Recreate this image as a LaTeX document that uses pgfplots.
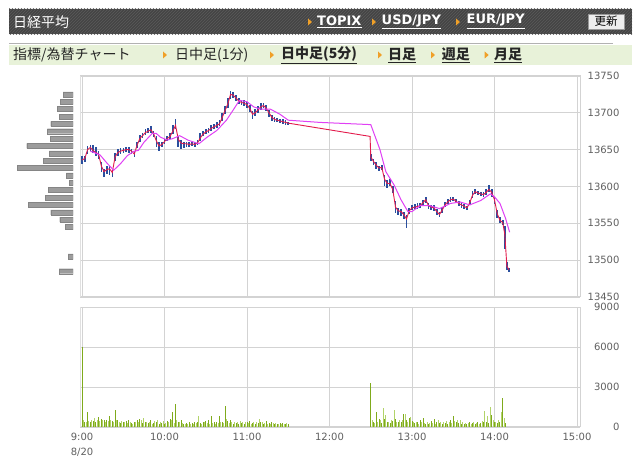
\documentclass[border=0pt]{standalone}
\usepackage{fontspec}
\setmainfont{DejaVu Sans}
\newfontfamily\jp{Noto Sans CJK JP}
\usepackage{pgfplots}
\pgfplotsset{compat=1.18}
\usepackage{pgfplotstable}
\usetikzlibrary{patterns}
\definecolor{hdr}{HTML}{454545}
\definecolor{hdrline}{HTML}{5A5A5A}
\definecolor{gbar}{HTML}{E8F2D9}
\definecolor{tri}{HTML}{F0A028}
\definecolor{gridc}{HTML}{D3D3D3}
\definecolor{tickc}{HTML}{606060}
\definecolor{candle}{HTML}{2A4F9E}
\definecolor{maone}{HTML}{E31B4C}
\definecolor{matwo}{HTML}{E040F5}
\definecolor{volD}{HTML}{7FAA1C}
\definecolor{volL}{HTML}{B2D36A}
\definecolor{histc}{HTML}{9C9C9C}

\pgfplotstableread{
t p ep em
0 13636 5 6
2 13638 4 5
4 13650 5 6
6 13653 4 5
8 13649 8 4
10 13646 7 5
12 13644 4 6
14 13628 5 8
16 13620 4 7
18 13623 5 6
20 13624 4 8
22 13619 4 6
24 13640 6 5
26 13646 5 4
28 13648 4 4
30 13649 3 3
32 13650 3 3
34 13650 3 4
36 13648 3 4
38 13644 4 4
40 13656 5 4
42 13665 5 4
44 13669 4 3
46 13673 5 3
48 13675 5 3
50 13677 5 4
52 13672 4 5
54 13662 6 8
56 13655 6 7
58 13657 4 4
60 13661 4 3
62 13665 4 3
64 13668 5 4
66 13675 8 4
68 13683 9 5
70 13664 5 10
72 13659 4 8
74 13658 3 6
76 13658 3 4
78 13657 3 4
80 13658 3 3
82 13657 3 3
84 13659 4 3
86 13666 6 4
88 13671 4 3
90 13674 4 3
92 13676 4 3
94 13679 4 3
96 13681 4 3
98 13683 4 4
100 13685 5 3
102 13694 6 5
104 13703 6 5
106 13712 8 5
108 13725 5 6
110 13724 4 4
112 13720 4 4
114 13716 4 4
116 13714 4 4
118 13713 4 4
120 13711 4 4
122 13706 4 5
124 13698 4 6
126 13700 5 4
128 13704 5 4
130 13708 5 4
132 13710 4 4
134 13706 4 4
136 13700 4 6
138 13694 3 5
140 13691 3 3
142 13690 3 3
144 13689 3 3
146 13688 3 3
148 13687 3 3
150 13686 2 3
}\morning

\pgfplotstableread{
t p ep em
210 13640 4 6
212 13634 4 5
214 13629 4 5
216 13625 3 4
218 13626 3 4
220 13610 5 10
222 13604 5 6
224 13604 6 4
226 13596 5 5
228 13572 8 8
230 13567 4 6
232 13566 4 6
234 13562 4 6
236 13556 5 12
238 13567 4 4
240 13571 4 3
242 13572 4 3
244 13573 4 3
246 13574 3 3
248 13578 4 4
250 13582 4 4
252 13574 4 5
254 13572 3 4
256 13571 4 4
258 13566 4 5
260 13562 4 4
262 13568 4 4
264 13575 4 3
266 13579 4 3
268 13582 4 3
270 13583 3 3
272 13580 3 3
274 13577 3 4
276 13575 3 4
278 13573 3 4
280 13571 3 3
282 13578 4 3
284 13588 6 4
286 13593 3 3
288 13591 3 3
290 13590 3 3
292 13589 3 3
294 13592 4 3
296 13596 6 4
298 13592 4 6
300 13582 4 6
302 13563 5 6
304 13554 4 4
306 13551 3 3
307.5 13535 12 20
309 13492 6 5
310.5 13487 3 3
}\afternoon

\pgfplotstableread{
t p
6 13648
13 13643
18 13632
23 13622
28 13631
33 13642
38 13648
41 13649
45 13660
51 13672
54 13672
57 13667
62 13663
66 13665
71 13669
77 13663
85 13658
91 13667
98 13676
105 13690
110 13704
114.5 13717
120 13715
125 13708
130 13705
137 13705
144 13698
150 13690
173 13687
210 13684
216.7 13650
221 13620
227 13602
232 13582
237 13566
240 13566
246 13574
253 13574
260 13570
268 13577
275 13579
282 13575
290 13581
297 13590
300 13586
304 13577
308 13557
311 13538
}\matwotab

\begin{document}
\begin{tikzpicture}[x=1pt,y=1pt]
\useasboundingbox (0,0) rectangle (640,471);
\fill[white] (0,0) rectangle (640,471);
% header bar
\fill[hdr] (9,436.7) rectangle (632,462);
\fill[pattern=north east lines, pattern color=hdrline] (9,436.7) rectangle (632,462);
\node[anchor=west, inner sep=0, text=white, font=\jp\fontsize{14}{14}\selectfont] at (13,449) {日経平均};
\foreach \tx in {310,374,458} {\fill[tri] (\tx-2,445.5) -- (\tx-2,452.5) -- (\tx+2,449) -- cycle;}
\node[anchor=west, inner sep=0, text=white, font=\bfseries\fontsize{13}{13}\selectfont] at (317,449.5) {\underline{TOPIX}};
\node[anchor=west, inner sep=0, text=white, font=\bfseries\fontsize{13}{13}\selectfont] at (381.5,449.5) {\underline{USD/JPY}};
\node[anchor=west, inner sep=0, text=white, font=\bfseries\fontsize{13}{13}\selectfont] at (466.5,449.5) {\underline{EUR/JPY}};
\draw[fill=white!93!black, draw=white!60!black] (588,442) rectangle (624,457);
\node[inner sep=0, font=\jp\fontsize{11.5}{11.5}\selectfont] at (606,449.5) {更新};
% second bar
\fill[gbar] (9,406) rectangle (632,426);
\draw[white!70!black, line width=1.5pt] (9,427.3) -- (613,427.3);
\node[anchor=west, inner sep=0, text=black!85, font=\jp\fontsize{14}{14}\selectfont] at (13,416) {指標/為替チャート};
\foreach \tx in {165,272,380,433,486.7} {\fill[tri] (\tx-2,412.5) -- (\tx-2,419.5) -- (\tx+2,416) -- cycle;}
\node[anchor=west, inner sep=0, text=black!85, font=\jp\fontsize{14}{14}\selectfont] at (175,416) {日中足(1分)};
\node[anchor=west, inner sep=0, text=black!85, font=\jp\bfseries\fontsize{14}{14}\selectfont] at (281,416) {\underline{日中足(5分)}};
\node[anchor=west, inner sep=0, text=black!85, font=\jp\bfseries\fontsize{14}{14}\selectfont] at (388,416) {\underline{日足}};
\node[anchor=west, inner sep=0, text=black!85, font=\jp\bfseries\fontsize{14}{14}\selectfont] at (441.7,416) {\underline{週足}};
\node[anchor=west, inner sep=0, text=black!85, font=\jp\bfseries\fontsize{14}{14}\selectfont] at (494,416) {\underline{月足}};

\pgfplotsset{
  panel/.style={anchor=south west, scale only axis, width=500pt,
    xmin=-1.5, xmax=362.2, xtick={0,60,...,360},
    grid=major, grid style={gridc, line width=0.9pt},
    axis line style={gridc, line width=1pt}, major tick length=0pt,
    yticklabel pos=right, scaled x ticks=false, scaled y ticks=false,
    yticklabel style={font=\fontsize{10}{12}\selectfont, text=tickc, anchor=east, xshift=43pt},
    /pgf/number format/1000 sep={}, /pgf/number format/assume math mode=true},
}

% price-by-volume histogram
\begin{axis}[at={(17pt,174pt)}, anchor=south west, scale only axis, width=56pt, height=221pt,
  xmin=0, xmax=56, ymin=13450, ymax=13750, x dir=reverse, hide axis, xbar, bar width=5pt]
\addplot[fill=histc, draw=histc!85!black, line width=0.4pt] coordinates {
(10,13725)(13,13715)(15.7,13705)(14,13695)(22.3,13685)(25.7,13675)(23,13665)(46.3,13655)
(24,13645)(29.7,13635)(55.3,13625)(6.7,13615)(4,13605)(25,13595)(27.7,13585)(45,13575)
(22.3,13565)(13.3,13555)(7.7,13545)(5,13505)(14,13485)};
\end{axis}

% price panel
\begin{axis}[panel, at={(80pt,174pt)}, height=221pt, ymin=13450, ymax=13750,
  xticklabels={}, ytick={13450,13500,...,13750}]
\draw[white!88!black, line width=3pt] ([xshift=-1pt]rel axis cs:0,0) -- ([xshift=-1pt]rel axis cs:0,1);
\addplot[draw=none, mark=none, forget plot, error bars/.cd, y dir=both, y explicit, error mark=none,
  error bar style={candle, line width=1.6pt}] table[x=t, y=p, y error plus=ep, y error minus=em] {\morning};
\addplot[draw=none, mark=none, forget plot, error bars/.cd, y dir=both, y explicit, error mark=none,
  error bar style={candle, line width=1.6pt}] table[x=t, y=p, y error plus=ep, y error minus=em] {\afternoon};
\addplot[maone, line width=0.9pt, mark=none] table[x=t, y=p] {\morning};
\addplot[maone, line width=0.9pt, mark=none] coordinates {(150,13686)(209.5,13668)(210,13640)};
\addplot[maone, line width=0.9pt, mark=none] table[x=t, y=p] {\afternoon};
\addplot[matwo, line width=1pt, mark=none] table[x=t, y=p] {\matwotab};
\end{axis}

% volume panel
\begin{axis}[panel, at={(80pt,44pt)}, height=120pt, ymin=0, ymax=9000,
  ytick={0,3000,6000,9000},
  xticklabels={{9:00\\8/20},10:00,11:00,12:00,13:00,14:00,15:00},
  xticklabel style={align=center, font=\fontsize{10}{15}\selectfont, text=tickc, anchor=north, yshift=-3pt}]
\draw[white!88!black, line width=3pt] ([xshift=-1pt]rel axis cs:0,0) -- ([xshift=-1pt]rel axis cs:0,1);
\addplot[ycomb, volD, line width=1pt, mark=none] coordinates {
(0,6000)(2,400)(4,1100)(6,400)(8,450)(10,400)(12,750)(14,600)(16,550)(18,500)(20,850)(22,450)(24,1250)(26,500)(28,300)(30,400)(32,450)(34,550)(36,300)(38,350)(40,550)(42,600)(44,300)(46,400)(48,300)(50,550)(52,300)(54,350)(56,250)(58,300)(60,200)(62,450)(64,600)(66,1100)(68,1700)(70,400)(72,550)(74,250)(76,300)(78,350)(80,300)(82,400)(84,350)(86,300)(88,400)(90,450)(92,500)(94,800)(96,350)(98,400)(100,850)(102,400)(104,1550)(106,450)(108,500)(110,250)(112,300)(114,250)(116,300)(118,250)(120,350)(122,450)(124,300)(126,250)(128,300)(130,350)(132,250)(134,450)(136,300)(138,350)(140,250)(142,250)(144,300)(146,300)(148,250)(150,250)
(210,3300)(212,400)(214,1100)(216,600)(218,300)(220,600)(222,350)(224,300)(226,450)(228,600)(230,350)(232,400)(234,950)(236,500)(238,650)(240,450)(242,300)(244,400)(246,500)(248,700)(250,250)(252,250)(254,450)(256,600)(258,350)(260,300)(262,250)(264,300)(266,250)(268,500)(270,800)(272,350)(274,300)(276,250)(278,200)(280,250)(282,350)(284,300)(286,250)(288,350)(290,300)(292,350)(294,400)(296,300)(298,900)(300,350)(302,300)(304,350)(306,2200)(308,300)};
\addplot[ycomb, volL, line width=1pt, mark=none] coordinates {
(1,550)(3,350)(5,450)(7,500)(9,700)(11,550)(13,450)(15,500)(17,400)(19,450)(21,500)(23,400)(25,550)(27,350)(29,450)(31,350)(33,300)(35,400)(37,250)(39,400)(41,350)(43,500)(45,700)(47,350)(49,400)(51,250)(53,450)(55,500)(57,400)(59,450)(61,300)(63,350)(65,500)(67,300)(69,550)(71,350)(73,300)(75,200)(77,250)(79,200)(81,250)(83,300)(85,850)(87,250)(89,350)(91,300)(93,250)(95,300)(97,250)(99,300)(101,350)(103,300)(105,600)(107,300)(109,350)(111,400)(113,350)(115,450)(117,350)(119,400)(121,300)(123,250)(125,350)(127,400)(129,600)(131,400)(133,300)(135,250)(137,250)(139,300)(141,300)(143,200)(145,250)(147,200)(149,300)
(211,500)(213,300)(215,400)(217,550)(219,1400)(221,900)(223,400)(225,500)(227,1250)(229,400)(231,500)(233,550)(235,1000)(237,400)(239,750)(241,400)(243,350)(245,250)(247,350)(249,300)(251,350)(253,300)(255,300)(257,250)(259,550)(261,400)(263,350)(265,450)(267,350)(269,300)(271,450)(273,550)(275,500)(277,350)(279,300)(281,300)(283,250)(285,400)(287,300)(289,250)(291,450)(293,1200)(295,800)(297,1500)(299,500)(301,400)(303,500)(305,1100)(307,700)};
\end{axis}
\end{tikzpicture}
\end{document}
